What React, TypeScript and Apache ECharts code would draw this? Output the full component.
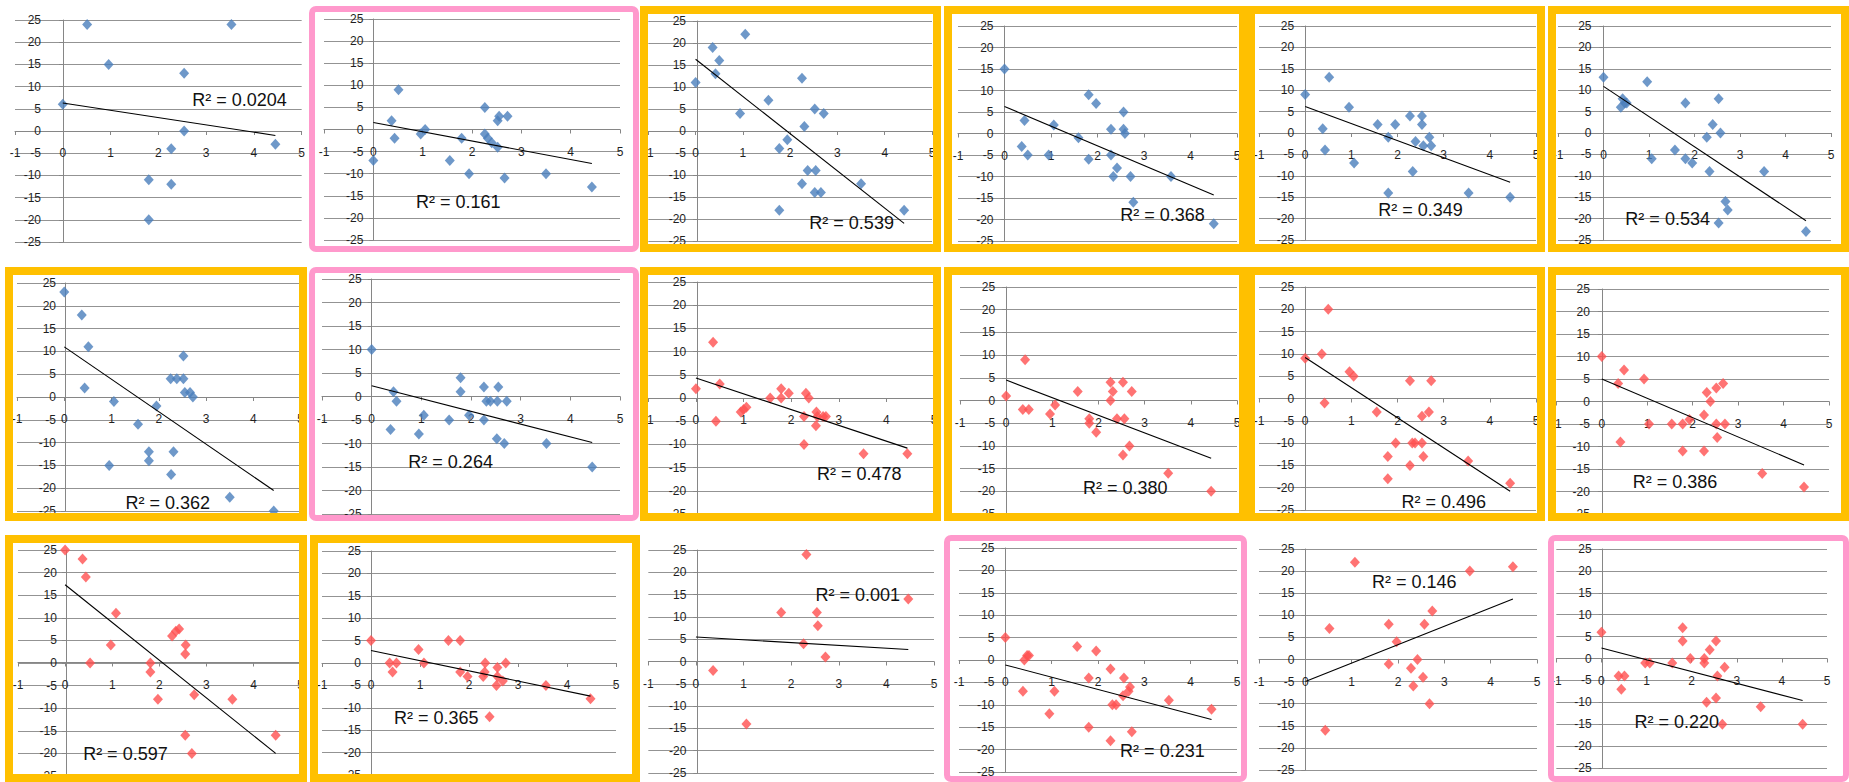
import React, { useEffect, useRef } from "react";
import * as echarts from "echarts";

// ---- data: [x, y] points for each of the 18 panels (row by row) ----
const p01 = [[0, 6], [0.51, 24], [0.96, 15], [1.8, -11], [1.8, -20], [2.27, -4], [2.27, -12], [2.54, 13], [2.54, 0], [3.53, 24], [4.45, -3]];
const p02 = [[0, -7], [0.37, 2], [0.43, -2], [0.51, 9], [0.96, -1], [1.05, 0], [1.55, -7], [1.79, -2], [1.94, -10], [2.26, 5], [2.26, -1], [2.32, -2], [2.4, -3], [2.52, -4], [2.52, 2], [2.55, 3], [2.72, 3], [2.66, -11], [3.5, -10], [4.43, -13]];
const p03 = [[0, 11], [0.36, 19], [0.42, 13], [0.5, 16], [0.94, 4], [1.05, 22], [1.54, 7], [1.77, -4], [1.77, -18], [1.94, -2], [2.25, 12], [2.25, -12], [2.3, 1], [2.37, -9], [2.52, 5], [2.52, -14], [2.54, -9], [2.65, -14], [2.71, 4], [3.5, -12], [4.41, -18]];
const p04 = [[0, 15], [0.37, -3], [0.43, 3], [0.5, -5], [0.95, -5], [1.06, 2], [1.59, -1], [1.81, 9], [1.81, -6], [1.97, 7], [2.29, 1], [2.29, -5], [2.34, -10], [2.42, -8], [2.56, 5], [2.56, 1], [2.59, 0], [2.71, -10], [2.77, -16], [3.58, -10], [4.5, -21]];
const p05 = [[0, 9], [0.38, 1], [0.43, -4], [0.52, 13], [0.95, 6], [1.06, -7], [1.57, 2], [1.8, -1], [1.8, -14], [1.95, 2], [2.27, 4], [2.33, -9], [2.39, -2], [2.53, 4], [2.53, 2], [2.56, -3], [2.69, -1], [2.73, -3], [3.54, -14], [4.44, -15]];
const p06 = [[0, 13], [0.38, 6], [0.42, 8], [0.47, 7], [0.51, 7], [0.96, 12], [1.06, -6], [1.57, -4], [1.8, 7], [1.8, -6], [1.95, -7], [2.27, -1], [2.33, -9], [2.4, 2], [2.53, 8], [2.57, 0], [2.53, -21], [2.68, -16], [2.73, -18], [3.53, -9], [4.45, -23]];
const p07 = [[0, 23], [0.37, 18], [0.43, 2], [0.51, 11], [0.95, -15], [1.05, -1], [1.56, -6], [1.79, -12], [1.79, -14], [1.95, -2], [2.25, 4], [2.31, -12], [2.26, -17], [2.38, 4], [2.52, 9], [2.52, 4], [2.55, 1], [2.66, 1], [2.72, 0], [3.5, -22], [4.43, -25]];
const p08 = [[0, 10], [0.38, -7], [0.44, 1], [0.5, -1], [0.95, -8], [1.05, -4], [1.56, -5], [1.79, 4], [1.79, 1], [1.96, -4], [2.26, 2], [2.26, -5], [2.31, -1], [2.39, -1], [2.53, -1], [2.55, 2], [2.52, -9], [2.67, -10], [2.72, -1], [3.52, -10], [4.44, -15]];
const p09 = [[0, 2], [0.36, 12], [0.42, -5], [0.5, 3], [0.94, -3], [1.0, -2.5], [1.06, -2], [1.56, 0], [1.79, 2], [1.79, 0], [1.95, 1], [2.27, -4], [2.27, -10], [2.31, 1], [2.37, 0], [2.53, -3], [2.55, -4], [2.52, -6], [2.67, -4], [2.73, -4], [3.52, -12], [4.44, -12]];
const p10 = [[0, 1], [0.36, -2], [0.41, 9], [0.49, -2], [0.95, -3], [1.06, -1], [1.55, 2], [1.8, -4], [1.8, -5], [1.95, -7], [2.26, 4], [2.26, 0], [2.31, 2], [2.4, -4], [2.53, 4], [2.56, -4], [2.53, -12], [2.67, -10], [2.72, 2], [3.51, -16], [4.44, -20]];
const p11 = [[0, 9], [0.36, 10], [0.42, -1], [0.5, 20], [0.96, 6], [1.05, 5], [1.55, -3], [1.79, -13], [1.79, -18], [1.96, -10], [2.27, 4], [2.27, -15], [2.32, -10], [2.38, -10], [2.53, -4], [2.53, -10], [2.56, -13], [2.68, -3], [2.73, 4], [3.53, -14], [4.44, -19]];
const p12 = [[0, 10], [0.36, 4], [0.41, -9], [0.49, 7], [0.93, 5], [1.04, -5], [1.54, -5], [1.78, -5], [1.78, -11], [1.93, -4], [2.25, -3], [2.25, -11], [2.31, 2], [2.39, 0], [2.52, 3], [2.52, -5], [2.54, -8], [2.67, 4], [2.71, -5], [3.53, -16], [4.45, -19]];
const p13 = [[0, 25], [0.37, 23], [0.44, 19], [0.53, 0], [0.97, 4], [1.08, 11], [1.81, 0], [1.81, -2], [1.97, -8], [2.27, 6], [2.35, 7], [2.42, 7.5], [2.56, 4], [2.55, 2], [2.55, -16], [2.69, -20], [2.74, -7], [3.55, -8], [4.47, -16]];
const p14 = [[0, 5], [0.38, 0], [0.44, -2], [0.52, 0], [0.97, 3], [1.08, 0], [1.58, 5], [1.82, 5], [1.82, -2], [1.97, -3], [2.29, -3], [2.32, -2], [2.33, 0], [2.42, -12], [2.56, -5], [2.58, -1], [2.58, -3], [2.69, -4], [2.75, 0], [3.57, -5], [4.48, -8]];
const p15 = [[0.36, -2], [1.06, -14], [1.79, 11], [2.26, 4], [2.32, 24], [2.54, 11], [2.56, 8], [2.72, 1], [4.46, 14]];
const p16 = [[0, 5], [0.38, -7], [0.41, 0], [0.47, 1], [0.51, 1], [0.95, -12], [1.06, -7], [1.55, 3], [1.8, -4], [1.8, -15], [1.96, 2], [2.27, -2], [2.27, -18], [2.31, -10], [2.39, -10], [2.54, -8], [2.56, -4], [2.66, -7], [2.69, -6], [2.73, -16], [3.53, -9], [4.45, -11]];
const p17 = [[0.43, -16], [0.52, 7], [1.07, 22], [1.8, 8], [1.8, -1], [1.97, 4], [2.28, -2], [2.33, -6], [2.42, 0], [2.54, -4], [2.57, 8], [2.68, -10], [2.74, 11], [3.55, 20], [4.48, 21]];
const p18 = [[0, 6], [0.38, -4], [0.44, -7], [0.51, -4], [0.97, -1], [1.07, -1], [1.57, -1], [1.8, 7], [1.8, 4], [1.97, 0], [2.28, 0], [2.28, -1], [2.33, -10], [2.4, 2], [2.54, 4], [2.57, -4], [2.54, -9], [2.68, -15], [2.73, -2], [3.53, -11], [4.46, -15]];

const POINTS = [p01, p02, p03, p04, p05, p06, p07, p08, p09, p10, p11, p12, p13, p14, p15, p16, p17, p18];

// linear trend: fitted value at x = 0 and at the largest x of the panel
const TREND_START = [6.3, 1.6, 16.3, 6.3, 6.2, 10.9, 11, 2.3, 4.3, 4.5, 9.2, 5, 17.3, 2.8, 5.5, -1.1, -5, 2.4];
const TREND_END = [-1.0, -7.7, -21.0, -14.3, -11.5, -20.5, -20.5, -9.8, -10.8, -12.7, -20.8, -14.1, -20, -7.4, 2.7, -13.3, 13.7, -9.6];

// coefficient of determination printed in each panel
const R2 = ["0.0204", "0.161", "0.539", "0.368", "0.349", "0.534", "0.362", "0.264", "0.478", "0.380", "0.496", "0.386", "0.597", "0.365", "0.001", "0.231", "0.146", "0.220"];

// axis ticks
const X_MIN = -1, X_MAX = 5, X_STEP = 1;
const Y_MIN = -25, Y_MAX = 25, Y_STEP = 5;

// ---- layout (page pixels) ----
const ORANGE = "#FFC000";
const PINK = "#FF99CC";
const BLUE = "#4A7EBB";
const RED = "#FF5050";
const GRID = "#939393";
const AXIS = "#868686";
const TEXT = "#1f1f1f";
const FONT = '"Liberation Sans", Arial, sans-serif';

type Layout = {
  box: [number, number, number, number];
  frame: string | null;
  plot: [number, number, number, number]; // px of x=-1, x=5, y=25, y=-25
  label: [number, number]; // R² label centre in data units
  gap: number;
};

const LAYOUT: Layout[] = [
  { box: [0, 0, 308, 260], frame: null, plot: [15, 303, 20, 242], label: [3.7, 7.0], gap: 22 },
  { box: [309, 6, 330, 246], frame: PINK, plot: [324, 620, 19, 240], label: [1.72, -16.4], gap: 10 },
  { box: [640, 6, 301, 246], frame: ORANGE, plot: [640, 932, 21, 241], label: [3.3, -21], gap: 11 },
  { box: [944, 6, 303, 246], frame: ORANGE, plot: [958, 1237, 26, 241], label: [3.4, -18.9], gap: 11 },
  { box: [1247, 6, 298, 246], frame: ORANGE, plot: [1259, 1536, 26, 240], label: [2.5, -18.1], gap: 11 },
  { box: [1548, 6, 301, 246], frame: ORANGE, plot: [1558, 1831, 26, 240], label: [1.41, -20.2], gap: 12 },

  { box: [5, 267, 302, 254], frame: ORANGE, plot: [17, 305, 283, 511], label: [2.19, -23.2], gap: 9 },
  { box: [309, 267, 330, 254], frame: PINK, plot: [322, 620, 279, 514], label: [1.59, -13.9], gap: 10 },
  { box: [640, 267, 301, 254], frame: ORANGE, plot: [641, 934, 282, 514], label: [3.43, -16.3], gap: 11 },
  { box: [944, 267, 303, 254], frame: ORANGE, plot: [960, 1237, 287, 514], label: [2.58, -19.3], gap: 11 },
  { box: [1247, 267, 298, 254], frame: ORANGE, plot: [1259, 1536, 287, 510], label: [3.0, -23.2], gap: 11 },
  { box: [1548, 267, 301, 254], frame: ORANGE, plot: [1556, 1829, 289, 514], label: [1.61, -17.9], gap: 12 },

  { box: [5, 535, 302, 247], frame: ORANGE, plot: [18, 305, 550, 777], label: [1.28, -20.2], gap: 9 },
  { box: [310, 535, 330, 247], frame: ORANGE, plot: [322, 616, 551, 775], label: [1.33, -12.3], gap: 10 },
  { box: [640, 533, 304, 249], frame: null, plot: [640, 934, 550, 773], label: [3.4, 14.9], gap: 11 },
  { box: [944, 535, 303, 247], frame: PINK, plot: [959, 1237, 548, 772], label: [3.39, -20.3], gap: 11 },
  { box: [1247, 533, 300, 249], frame: null, plot: [1259, 1537, 549, 770], label: [2.35, 17.5], gap: 11 },
  { box: [1548, 535, 301, 247], frame: PINK, plot: [1549, 1827, 549, 768], label: [1.67, -14.6], gap: 11 },
];

function buildOption(i: number) {
  const lay = LAYOUT[i];
  const pts = POINTS[i];
  const [bx, by, bw, bh] = lay.box;
  const [xl, xr, yt, yb] = lay.plot;
  const w = xr - xl;
  const h = yb - yt;
  const color = i < 8 ? BLUE : RED;
  const xEnd = Math.max(...pts.map((p) => p[0]));
  const lw = lay.frame === ORANGE ? 8 : 6;

  // each axis crosses the other at 0; shift it from the grid edge to that spot
  const xAxisShift = ((0 - Y_MIN) / (Y_MAX - Y_MIN)) * h;
  const yAxisShift = ((0 - X_MIN) / (X_MAX - X_MIN)) * w;

  const graphic = lay.frame
    ? [
        {
          type: "rect",
          z: 100,
          silent: true,
          shape: { x: lw / 2, y: lw / 2, width: bw - lw, height: bh - lw, r: lay.frame === PINK ? 4 : 0 },
          style: { fill: "none", stroke: lay.frame, lineWidth: lw },
        },
      ]
    : [];

  return {
    animation: false,
    grid: { left: xl - bx, top: yt - by, width: w, height: h, containLabel: false },
    xAxis: {
      type: "value",
      position: "bottom",
      offset: -xAxisShift,
      min: X_MIN,
      max: X_MAX,
      interval: X_STEP,
      axisLine: { show: true, onZero: false, lineStyle: { color: AXIS, width: 1 } },
      axisTick: { show: true, length: 4, lineStyle: { color: AXIS } },
      axisLabel: { margin: 16, fontSize: 12, fontFamily: FONT, color: TEXT },
      splitLine: { show: false },
    },
    yAxis: {
      type: "value",
      position: "left",
      offset: -yAxisShift,
      min: Y_MIN,
      max: Y_MAX,
      interval: Y_STEP,
      axisLine: { show: true, onZero: false, lineStyle: { color: AXIS, width: 1 } },
      axisTick: { show: true, length: 4, lineStyle: { color: AXIS } },
      axisLabel: { margin: lay.gap, fontSize: 12, fontFamily: FONT, color: TEXT },
      splitLine: { show: true, lineStyle: { color: GRID, width: 1 } },
    },
    series: [
      {
        type: "scatter",
        data: pts,
        symbol: "diamond",
        symbolSize: [10, 11],
        itemStyle: { color },
        z: 3,
      },
      {
        type: "line",
        data: [
          [0, TREND_START[i]],
          [xEnd, TREND_END[i]],
        ],
        showSymbol: false,
        symbol: "none",
        lineStyle: { color: "#000", width: 1.1 },
        z: 4,
      },
      {
        type: "custom",
        data: [lay.label],
        encode: { x: 0, y: 1 },
        z: 5,
        renderItem: (_params: any, api: any) => {
          const p = api.coord([api.value(0), api.value(1)]);
          return {
            type: "text",
            x: p[0],
            y: p[1],
            style: {
              text: "R² = " + R2[i],
              fontSize: 18,
              fontFamily: FONT,
              fill: "#111",
              align: "center",
              verticalAlign: "middle",
            },
          };
        },
      },
    ],
    graphic,
  };
}

function Panel({ index }: { index: number }) {
  const ref = useRef<HTMLDivElement>(null);
  const [bx, by, bw, bh] = LAYOUT[index].box;
  useEffect(() => {
    if (!ref.current) return;
    const chart = echarts.init(ref.current, null, { renderer: "svg" });
    chart.setOption(buildOption(index) as any);
    return () => chart.dispose();
  }, [index]);
  return (
    <div
      ref={ref}
      style={{ position: "absolute", left: bx, top: by, width: bw, height: bh, overflow: "hidden" }}
    />
  );
}

export default function App() {
  useEffect(() => {
    document.body.style.margin = "0";
    document.body.style.background = "#fff";
  }, []);
  return (
    <div style={{ position: "relative", width: 1849, height: 782, background: "#fff", overflow: "hidden" }}>
      {LAYOUT.map((_, i) => (
        <Panel key={i} index={i} />
      ))}
    </div>
  );
}
